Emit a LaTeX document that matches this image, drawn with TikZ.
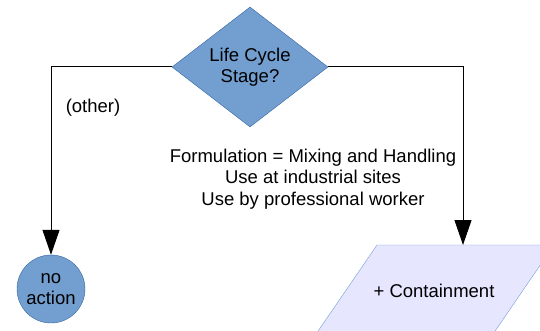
\documentclass[tikz,border=0pt]{standalone}
\usepackage{fontspec}
\setmainfont{Liberation Sans}
\usetikzlibrary{shapes.geometric,arrows.meta}
\definecolor{decblue}{HTML}{729FCF}
\definecolor{decline}{HTML}{3465A4}
\definecolor{lavender}{HTML}{E6E6FF}
\tikzset{
    flow/.style={-{Triangle[length=25pt,width=17pt]},line width=1pt},
    txt/.style={font=\fontsize{18.5}{21.5}\selectfont},
}
\begin{document}
\begin{tikzpicture}[x=1pt,y=-1pt]
    \useasboundingbox (0,0) rectangle (540,331);
    \node[diamond,draw=decline,fill=decblue,inner sep=0pt,minimum width=156pt,minimum height=118pt,txt,align=center] (stage) at (250,67) {Life Cycle\\Stage?};
    \node[circle,draw=decline,fill=decblue,inner sep=0pt,minimum size=68pt,txt,align=center] (noact) at (51,289) {no\\action};
    % parallelogram runs off the page
    \draw[decblue,fill=lavender] (314,337) -- (377,245) -- (554,245) -- (491,337) -- cycle;
    \coordinate (contop) at (463,245);
    \node[txt] (contain) at (434,291) {+ Containment};
    \draw[flow] (stage.west) -| (noact.north);
    \draw[flow] (stage.east) -| (contop);
    \node[txt] (other) at (93,108) {(other)};
    \node[txt,align=center] (uses) at (313,179) {Formulation = Mixing and Handling\\Use at industrial sites\\Use by professional worker};
\end{tikzpicture}
\end{document}
